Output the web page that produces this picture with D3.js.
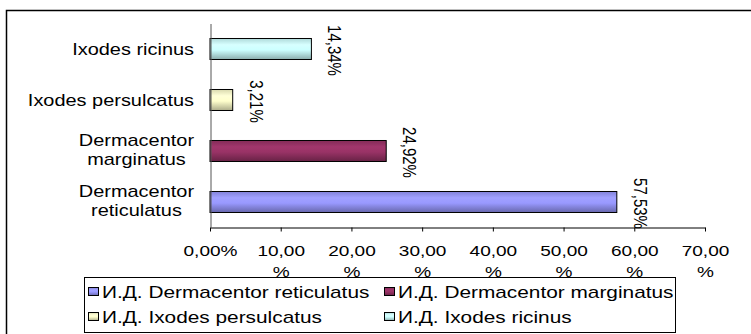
<!DOCTYPE html>
<html>
<head>
<meta charset="utf-8">
<script src="https://cdn.jsdelivr.net/npm/d3@7"></script>
<style>
  html, body { margin: 0; padding: 0; background: #fff; }
  svg { display: block; font-family: Arial, "Liberation Sans", sans-serif; }
</style>
</head>
<body>
<svg id="chart" width="751" height="334"></svg>
<script>
// Species (bottom-to-top order of the bars) and their shares, %
const categories = ["Dermacentor reticulatus", "Dermacentor marginatus", "Ixodes persulcatus", "Ixodes ricinus"];
const values = [57.53, 24.92, 3.21, 14.34];
const legendLabels = ["И.Д. Dermacentor reticulatus", "И.Д. Dermacentor marginatus", "И.Д. Ixodes persulcatus", "И.Д. Ixodes ricinus"];
const seriesColors = ["#9999FF", "#993366", "#FFFFCC", "#CCFFFF"];
const xTicks = [0, 10, 20, 30, 40, 50, 60, 70];

const W = 751, H = 334;
const SX = 1.27;               // horizontal stretch of the lettering
const svg = d3.select("#chart");

const pct = v => d3.format(".2f")(v).replace(".", ",") + "%";

// Scales
const x = d3.scaleLinear().domain([0, 70]).range([210, 705]);
const y = d3.scaleBand()
  .domain(categories.slice().reverse())
  .range([23.5, 227.5])
  .paddingInner(0.588)
  .paddingOuter(0.294);

// Cylinder-like vertical gradients for bars
const defs = svg.append("defs");
seriesColors.forEach((c, i) => {
  const g = defs.append("linearGradient")
    .attr("id", "grad" + i).attr("x1", 0).attr("y1", 0).attr("x2", 0).attr("y2", 1);
  const base = d3.color(c);
  g.append("stop").attr("offset", "0%").attr("stop-color", base.darker(0.45));
  g.append("stop").attr("offset", "30%").attr("stop-color", base.brighter(0.15));
  g.append("stop").attr("offset", "55%").attr("stop-color", base);
  g.append("stop").attr("offset", "100%").attr("stop-color", base.darker(1.1));
});

// Outer chart frame
svg.append("rect")
  .attr("x", 6.5).attr("y", 10.5).attr("width", 800).attr("height", 400)
  .attr("fill", "none").attr("stroke", "#000").attr("stroke-width", 1.5);

// Bars
svg.append("g").selectAll("rect")
  .data(categories)
  .join("rect")
  .attr("x", x(0))
  .attr("y", d => y(d))
  .attr("width", (d, i) => x(values[i]) - x(0))
  .attr("height", y.bandwidth())
  .attr("fill", (d, i) => `url(#grad${i})`)
  .attr("stroke", "#000")
  .attr("stroke-width", 1);

// X axis
const xAxis = svg.append("g")
  .attr("transform", "translate(0,227.5)")
  .call(d3.axisBottom(x).tickValues(xTicks).tickSize(4).tickSizeOuter(0).tickFormat(pct));
xAxis.select(".domain").attr("stroke", "#000");
xAxis.selectAll(".tick line").attr("stroke", "#000");
xAxis.selectAll(".tick text").each(function(d) {
  const t = d3.select(this);
  const label = pct(d);
  t.text(null)
    .attr("y", 29).attr("dy", null)
    .attr("font-size", 15).attr("fill", "#000")
    .attr("font-family", "Arial, 'Liberation Sans', sans-serif")
    .attr("transform", `scale(${SX},1)`);
  t.append("tspan").attr("x", 0).text(label);
  const w = this.getComputedTextLength() * SX;
  if (w > 60) {
    t.text(null);
    t.append("tspan").attr("x", 0).text(label.slice(0, -1));
    t.append("tspan").attr("x", 0).attr("dy", 21).text("%");
  }
});

// Category axis line
const yAxis = svg.append("g")
  .attr("transform", "translate(210.5,0)")
  .call(d3.axisLeft(y).tickSize(0).tickSizeOuter(0).tickFormat(""));
yAxis.select(".domain").attr("stroke", "#555");

// Category labels, wrapped when too wide
const catG = svg.append("g");
categories.forEach(name => {
  const cy = y(name) + y.bandwidth() / 2;
  const t = catG.append("text")
    .attr("font-size", 15.7).attr("fill", "#000")
    .attr("text-anchor", "middle");
  t.text(name);
  let lines = [name];
  if (t.node().getComputedTextLength() * SX > 180) lines = name.split(" ");
  t.text(null);
  const widths = lines.map(l => { t.text(l); return t.node().getComputedTextLength() * SX; });
  t.text(null);
  const maxW = d3.max(widths);
  const cx = 194 - maxW / 2;
  const lineH = 19;
  const base = cy + 6 - (lines.length - 1) * lineH / 2 - (lines.length > 1 ? 1.5 : 0);
  t.attr("transform", `translate(${cx},${base}) scale(${SX},1)`);
  lines.forEach((l, i) => t.append("tspan").attr("x", 0).attr("y", i * lineH).text(l));
});

// Rotated value labels
svg.append("g").selectAll("text")
  .data(categories)
  .join("text")
  .attr("font-size", 15).attr("fill", "#000")
  .attr("text-anchor", "middle")
  .attr("transform", (d, i) => `translate(${x(values[i]) + 17},${y(d) + y.bandwidth() / 2 + 1.5}) scale(${SX},1) rotate(90)`)
  .text((d, i) => pct(values[i]));

// Legend
const leg = svg.append("g");
leg.append("rect")
  .attr("x", 84.5).attr("y", 277.5).attr("width", 591).attr("height", 55)
  .attr("fill", "#fff").attr("stroke", "#000").attr("stroke-width", 1);
const colX = [102, 398], rowY = [298, 323];
legendLabels.forEach((lab, i) => {
  const tx = colX[i % 2], ty = rowY[Math.floor(i / 2)];
  leg.append("rect")
    .attr("x", tx - 13.5).attr("y", ty - 10.5).attr("width", 10).attr("height", 8)
    .attr("fill", `url(#grad${i})`).attr("stroke", "#000").attr("stroke-width", 1);
  leg.append("text")
    .attr("transform", `translate(${tx},${ty}) scale(${SX},1)`)
    .attr("font-size", 16.4).attr("fill", "#000")
    .text(lab);
});
</script>
</body>
</html>
